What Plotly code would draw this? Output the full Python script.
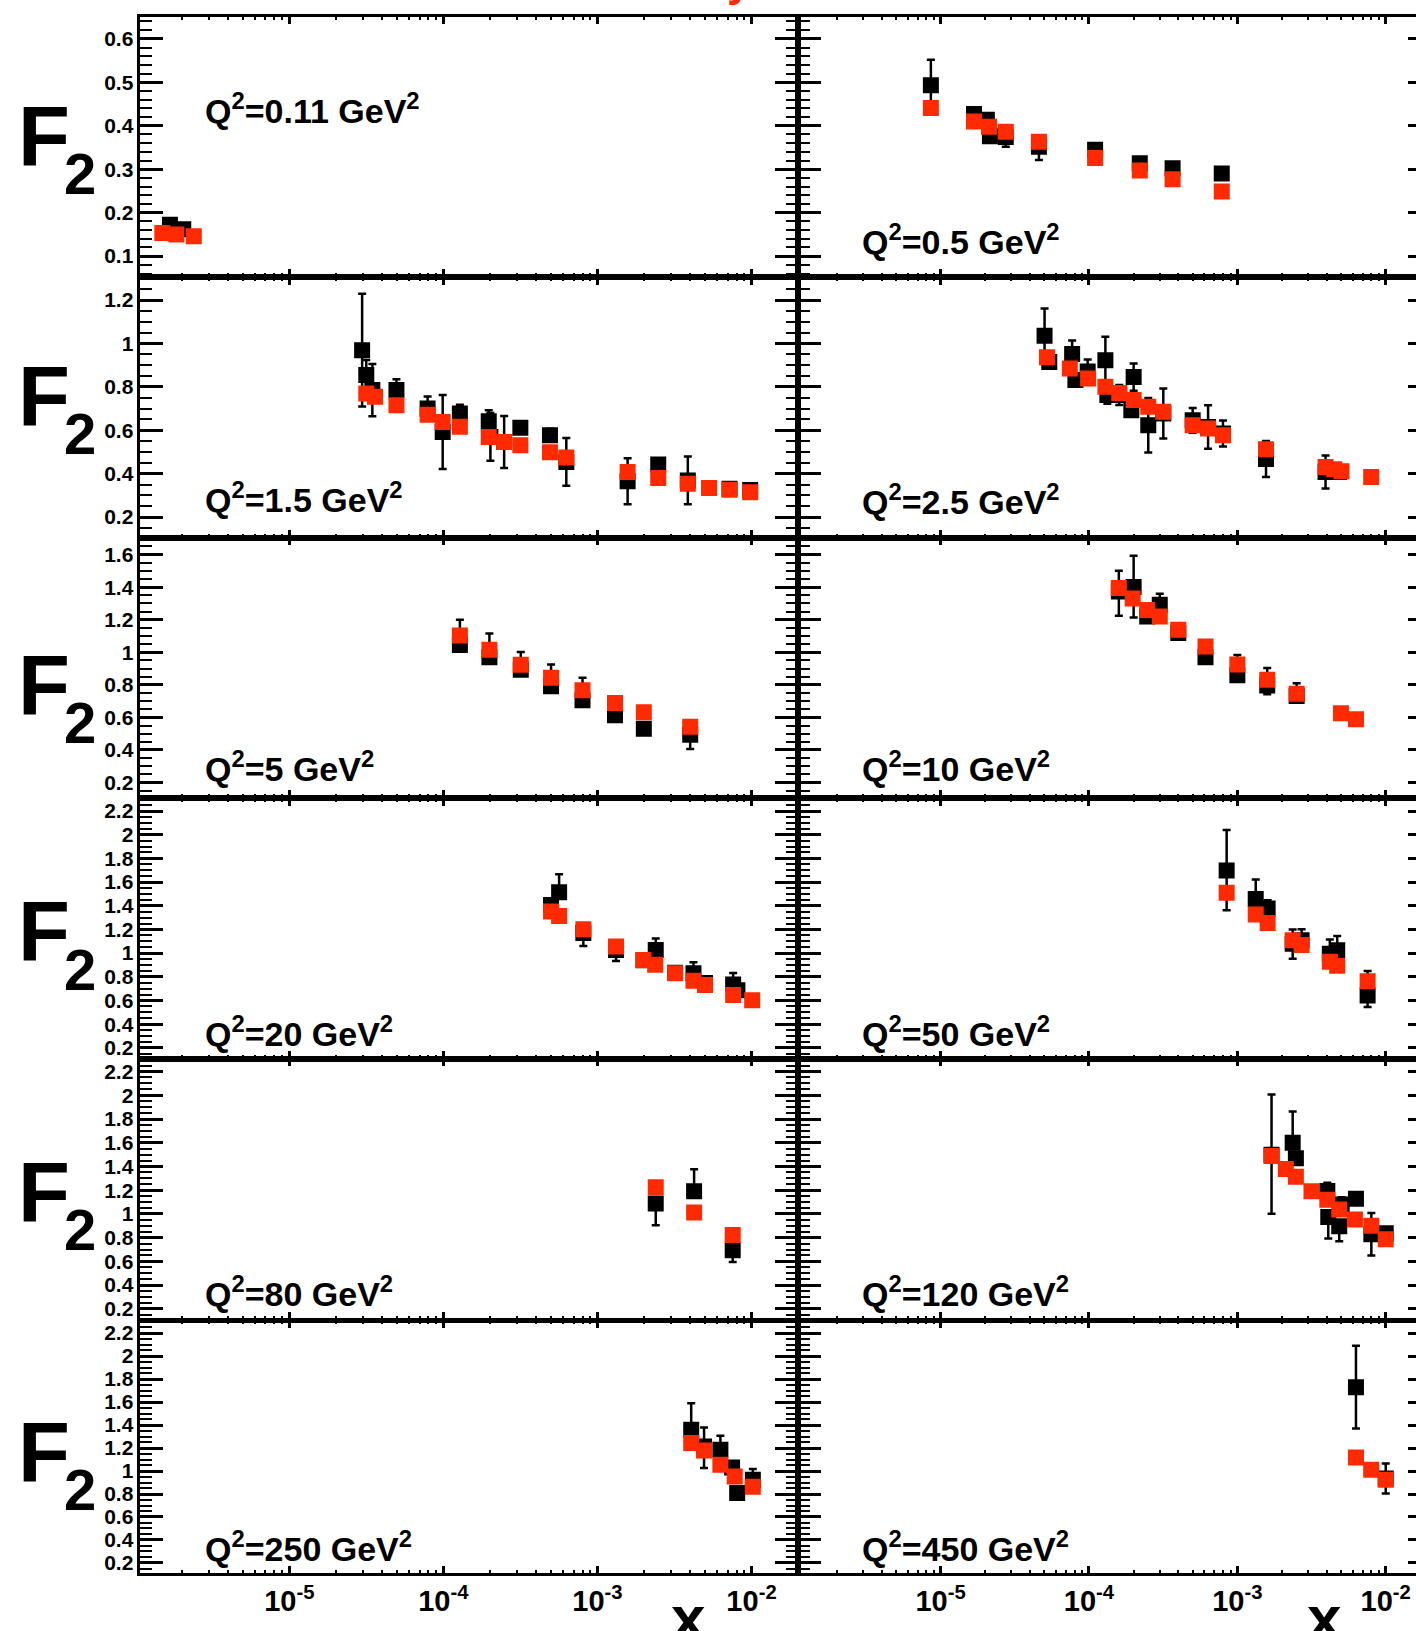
import plotly.graph_objects as go

W, H = 1416, 1631
FONT = "Liberation Sans, Arial, Helvetica, sans-serif"
BLACK = "#000000"
RED = "#ff2a00"

q2_labels = ["0.11", "0.5", "1.5", "2.5", "5", "10", "20", "50", "80", "120", "250", "450"]
x_tick_vals = [1e-5, 1e-4, 1e-3, 1e-2]
x_tick_text = ["10<sup>-5</sup>", "10<sup>-4</sup>", "10<sup>-3</sup>", "10<sup>-2</sup>"]

# ---------------- data (black = measurement, red = model) ----------------
# Q2 = 0.11
dat_x_0p11 = [1.68e-6, 2.05e-6]
dat_f2_0p11 = [0.172, 0.162]
dat_up_0p11 = [0.006, 0.006]
dat_dn_0p11 = [0.006, 0.006]
mod_x_0p11 = [1.5e-6, 1.85e-6, 2.4e-6]
mod_f2_0p11 = [0.153, 0.150, 0.146]

# Q2 = 0.5
dat_x_0p5 = [8.6e-6, 1.68e-5, 2.05e-5, 2.15e-5, 2.75e-5, 4.6e-5, 1.1e-4, 2.2e-4, 3.66e-4, 7.85e-4]
dat_f2_0p5 = [0.493, 0.427, 0.414, 0.376, 0.374, 0.352, 0.345, 0.314, 0.302, 0.290]
dat_up_0p5 = [0.059, 0.008, 0.012, 0.008, 0.010, 0.010, 0.006, 0.006, 0.006, 0.008]
dat_dn_0p5 = [0.059, 0.008, 0.012, 0.008, 0.022, 0.031, 0.006, 0.006, 0.006, 0.008]
mod_x_0p5 = [8.6e-6, 1.68e-5, 2.12e-5, 2.75e-5, 4.6e-5, 1.1e-4, 2.2e-4, 3.66e-4, 7.85e-4]
mod_f2_0p5 = [0.441, 0.410, 0.398, 0.386, 0.363, 0.326, 0.297, 0.277, 0.249]

# Q2 = 1.5
dat_x_1p5 = [2.97e-5, 3.16e-5, 3.46e-5, 4.96e-5, 7.9e-5, 9.9e-5, 1.28e-4, 1.97e-4, 2.02e-4,
             2.48e-4, 3.16e-4, 4.92e-4, 6.28e-4, 1.57e-3, 2.48e-3, 3.86e-3, 7.2e-3, 9.8e-3]
dat_f2_1p5 = [0.969, 0.854, 0.785, 0.785, 0.700, 0.592, 0.677, 0.642, 0.569,
              0.546, 0.611, 0.577, 0.454, 0.365, 0.442, 0.369, 0.330, 0.325]
dat_up_1p5 = [0.26, 0.07, 0.12, 0.05, 0.056, 0.17, 0.04, 0.05, 0.11,
              0.12, 0.02, 0.03, 0.11, 0.106, 0.02, 0.11, 0.01, 0.01]
dat_dn_1p5 = [0.26, 0.07, 0.12, 0.05, 0.056, 0.17, 0.04, 0.03, 0.11,
              0.12, 0.02, 0.03, 0.11, 0.106, 0.02, 0.11, 0.01, 0.01]
mod_x_1p5 = [3.16e-5, 3.6e-5, 4.96e-5, 7.9e-5, 9.9e-5, 1.28e-4, 1.97e-4, 2.48e-4, 3.16e-4,
             4.92e-4, 6.28e-4, 1.57e-3, 2.48e-3, 3.86e-3, 5.3e-3, 7.2e-3, 9.8e-3]
mod_f2_1p5 = [0.769, 0.754, 0.715, 0.671, 0.638, 0.616, 0.569, 0.546, 0.531,
              0.499, 0.474, 0.408, 0.380, 0.354, 0.334, 0.326, 0.315]

# Q2 = 2.5
dat_x_2p5 = [5.02e-5, 5.4e-5, 7.7e-5, 8.1e-5, 9.8e-5, 1.29e-4, 1.33e-4, 1.6e-4, 2.0e-4,
             1.93e-4, 2.51e-4, 3.17e-4, 5.0e-4, 6.35e-4, 8.0e-4, 1.56e-3, 3.93e-3, 4.85e-3]
dat_f2_2p5 = [1.035, 0.915, 0.951, 0.831, 0.871, 0.923, 0.762, 0.762, 0.845,
              0.692, 0.623, 0.677, 0.646, 0.615, 0.585, 0.468, 0.408, 0.408]
dat_up_2p5 = [0.126, 0.03, 0.062, 0.02, 0.055, 0.108, 0.04, 0.046, 0.063,
              0.02, 0.126, 0.115, 0.057, 0.10, 0.06, 0.083, 0.076, 0.02]
dat_dn_2p5 = [0.126, 0.03, 0.062, 0.02, 0.055, 0.108, 0.04, 0.046, 0.063,
              0.02, 0.126, 0.115, 0.057, 0.10, 0.06, 0.083, 0.076, 0.02]
mod_x_2p5 = [5.21e-5, 7.43e-5, 9.87e-5, 1.29e-4, 1.6e-4, 2.0e-4, 2.51e-4, 3.17e-4, 5.0e-4,
             6.35e-4, 8.0e-4, 1.56e-3, 3.93e-3, 4.5e-3, 5.03e-3, 7.98e-3]
mod_f2_2p5 = [0.936, 0.885, 0.839, 0.800, 0.772, 0.739, 0.708, 0.685, 0.623,
              0.608, 0.577, 0.512, 0.431, 0.420, 0.411, 0.385]

# Q2 = 5
dat_x_5 = [1.28e-4, 1.99e-4, 3.18e-4, 5.0e-4, 8.0e-4, 1.3e-3, 2.0e-3, 4.0e-3]
dat_f2_5 = [1.044, 0.970, 0.892, 0.792, 0.705, 0.613, 0.531, 0.494]
dat_up_5 = [0.156, 0.146, 0.109, 0.133, 0.139, 0.03, 0.02, 0.06]
dat_dn_5 = [0.02, 0.02, 0.03, 0.02, 0.02, 0.03, 0.02, 0.088]
mod_x_5 = [1.28e-4, 1.99e-4, 3.18e-4, 5.0e-4, 8.0e-4, 1.3e-3, 2.0e-3, 4.0e-3]
mod_f2_5 = [1.103, 1.015, 0.923, 0.843, 0.767, 0.689, 0.631, 0.543]

# Q2 = 10
dat_x_10 = [1.59e-4, 2.0e-4, 2.47e-4, 3.0e-4, 4.0e-4, 6.1e-4, 1.0e-3, 1.59e-3, 2.51e-3]
dat_f2_10 = [1.374, 1.401, 1.220, 1.292, 1.118, 0.970, 0.859, 0.796, 0.732]
dat_up_10 = [0.127, 0.192, 0.02, 0.068, 0.01, 0.01, 0.125, 0.107, 0.078]
dat_dn_10 = [0.150, 0.187, 0.02, 0.02, 0.01, 0.01, 0.02, 0.053, 0.02]
mod_x_10 = [1.59e-4, 1.97e-4, 2.47e-4, 3.0e-4, 4.0e-4, 6.1e-4, 1.0e-3, 1.59e-3, 2.51e-3, 4.99e-3, 6.3e-3]
mod_f2_10 = [1.395, 1.331, 1.259, 1.220, 1.138, 1.036, 0.925, 0.831, 0.745, 0.625, 0.588]

# Q2 = 20
dat_x_20 = [5.0e-4, 5.64e-4, 8.1e-4, 1.32e-3, 1.99e-3, 2.39e-3, 3.19e-3, 4.2e-3, 4.99e-3, 7.6e-3, 8.1e-3]
dat_f2_20 = [1.407, 1.515, 1.170, 1.027, 0.939, 1.027, 0.835, 0.829, 0.747, 0.736, 0.686]
dat_up_20 = [0.02, 0.152, 0.02, 0.02, 0.02, 0.096, 0.01, 0.093, 0.01, 0.096, 0.01]
dat_dn_20 = [0.02, 0.05, 0.11, 0.093, 0.02, 0.03, 0.01, 0.02, 0.01, 0.02, 0.01]
mod_x_20 = [5.0e-4, 5.64e-4, 8.1e-4, 1.32e-3, 1.99e-3, 2.37e-3, 3.19e-3, 4.2e-3, 4.99e-3, 7.6e-3, 1.01e-2]
mod_f2_20 = [1.351, 1.314, 1.202, 1.055, 0.942, 0.902, 0.829, 0.767, 0.730, 0.646, 0.601]

# Q2 = 50
dat_x_50 = [8.47e-4, 1.33e-3, 1.6e-3, 2.36e-3, 2.71e-3, 4.2e-3, 4.71e-3, 7.55e-3]
dat_f2_50 = [1.698, 1.458, 1.376, 1.080, 1.108, 0.995, 1.024, 0.643]
dat_up_50 = [0.341, 0.164, 0.07, 0.12, 0.093, 0.121, 0.121, 0.206]
dat_dn_50 = [0.336, 0.02, 0.02, 0.127, 0.02, 0.02, 0.02, 0.099]
mod_x_50 = [8.47e-4, 1.33e-3, 1.6e-3, 2.36e-3, 2.71e-3, 4.2e-3, 4.71e-3, 7.55e-3]
mod_f2_50 = [1.509, 1.326, 1.255, 1.108, 1.069, 0.927, 0.894, 0.762]

# Q2 = 80
dat_x_80 = [2.39e-3, 4.24e-3, 7.55e-3]
dat_f2_80 = [1.088, 1.190, 0.694]
dat_up_80 = [0.02, 0.186, 0.02]
dat_dn_80 = [0.183, 0.05, 0.099]
mod_x_80 = [2.39e-3, 4.24e-3, 7.55e-3]
mod_f2_80 = [1.224, 1.012, 0.823]

# Q2 = 120
dat_x_120 = [1.7e-3, 2.36e-3, 2.48e-3, 4.04e-3, 4.1e-3, 4.86e-3, 5.05e-3, 6.3e-3, 8.0e-3, 1.0e-2]
dat_f2_120 = [1.498, 1.599, 1.469, 1.193, 0.973, 0.897, 1.080, 1.128, 0.829, 0.838]
dat_up_120 = [0.508, 0.265, 0.03, 0.07, 0.02, 0.02, 0.06, 0.03, 0.178, 0.02]
dat_dn_120 = [0.496, 0.03, 0.03, 0.02, 0.18, 0.127, 0.02, 0.03, 0.18, 0.02]
mod_x_120 = [1.7e-3, 2.12e-3, 2.48e-3, 3.16e-3, 4.04e-3, 4.86e-3, 6.2e-3, 8.0e-3, 1.0e-2]
mod_f2_120 = [1.489, 1.379, 1.314, 1.190, 1.120, 1.038, 0.953, 0.900, 0.787]

# Q2 = 250
dat_x_250 = [4.06e-3, 4.92e-3, 6.28e-3, 7.48e-3, 8.07e-3, 1.02e-2]
dat_f2_250 = [1.359, 1.214, 1.185, 1.030, 0.809, 0.924]
dat_up_250 = [0.23, 0.165, 0.122, 0.02, 0.02, 0.093]
dat_dn_250 = [0.02, 0.188, 0.02, 0.02, 0.02, 0.02]
mod_x_250 = [4.06e-3, 4.92e-3, 6.28e-3, 7.78e-3, 1.02e-2]
mod_f2_250 = [1.243, 1.179, 1.055, 0.953, 0.863]

# Q2 = 450
dat_x_450 = [6.3e-3, 1.0e-2]
dat_f2_450 = [1.730, 0.935]
dat_up_450 = [0.36, 0.13]
dat_dn_450 = [0.36, 0.13]
mod_x_450 = [6.3e-3, 7.98e-3, 1.0e-2]
mod_f2_450 = [1.118, 1.011, 0.924]

panels = [
    (dat_x_0p11, dat_f2_0p11, dat_up_0p11, dat_dn_0p11, mod_x_0p11, mod_f2_0p11),
    (dat_x_0p5, dat_f2_0p5, dat_up_0p5, dat_dn_0p5, mod_x_0p5, mod_f2_0p5),
    (dat_x_1p5, dat_f2_1p5, dat_up_1p5, dat_dn_1p5, mod_x_1p5, mod_f2_1p5),
    (dat_x_2p5, dat_f2_2p5, dat_up_2p5, dat_dn_2p5, mod_x_2p5, mod_f2_2p5),
    (dat_x_5, dat_f2_5, dat_up_5, dat_dn_5, mod_x_5, mod_f2_5),
    (dat_x_10, dat_f2_10, dat_up_10, dat_dn_10, mod_x_10, mod_f2_10),
    (dat_x_20, dat_f2_20, dat_up_20, dat_dn_20, mod_x_20, mod_f2_20),
    (dat_x_50, dat_f2_50, dat_up_50, dat_dn_50, mod_x_50, mod_f2_50),
    (dat_x_80, dat_f2_80, dat_up_80, dat_dn_80, mod_x_80, mod_f2_80),
    (dat_x_120, dat_f2_120, dat_up_120, dat_dn_120, mod_x_120, mod_f2_120),
    (dat_x_250, dat_f2_250, dat_up_250, dat_dn_250, mod_x_250, mod_f2_250),
    (dat_x_450, dat_f2_450, dat_up_450, dat_dn_450, mod_x_450, mod_f2_450),
]

# ---------------- layout geometry (pixels) ----------------
COL_X = [(140.3, 798.2), (798.2, 1416.0)]
X_RANGE = [(-5.967, -1.697), (-5.9596, -1.796)]
ROW_TOP = [16.7, 277.0, 537.5, 798.0, 1058.5, 1320.5]
ROW_BOT = [277.0, 537.5, 798.0, 1058.5, 1319.5, 1573.3]
Y_RANGE = [(0.052, 0.651), (0.106, 1.306), (0.105, 1.705), (0.11, 2.31), (0.11, 2.31), (0.11, 2.31)]
Y_DTICK = [0.1, 0.2, 0.2, 0.2, 0.2, 0.2]
Y_MINOR = [0.02, 0.05, 0.05, 0.05, 0.05, 0.05]

minor_x = [k * 10.0 ** e for e in range(-6, -1) for k in range(2, 10)]

fig = go.Figure()
layout = dict(width=W, height=H, margin=dict(l=0, r=0, t=0, b=0),
              paper_bgcolor="white", plot_bgcolor="white", showlegend=False)

for i, (dx, df, du, dd, mx, mf) in enumerate(panels):
    r, c = divmod(i, 2)
    n = i + 1
    xa = "x" if n == 1 else f"x{n}"
    ya = "y" if n == 1 else f"y{n}"
    fig.add_trace(go.Scatter(
        x=dx, y=df, xaxis=xa, yaxis=ya, mode="markers",
        marker=dict(symbol="square", size=16, color=BLACK, line=dict(width=0)),
        error_y=dict(type="data", symmetric=False, array=du, arrayminus=dd,
                     color=BLACK, thickness=2.5, width=4)))
    fig.add_trace(go.Scatter(
        x=mx, y=mf, xaxis=xa, yaxis=ya, mode="markers",
        marker=dict(symbol="square", size=16, color=RED, line=dict(width=0))))

    x0, x1 = COL_X[c]
    bottom_row = (r == 5)
    layout["xaxis" if n == 1 else f"xaxis{n}"] = dict(
        domain=[x0 / W, x1 / W], anchor=ya, type="log", range=list(X_RANGE[c]),
        tickmode="array", tickvals=x_tick_vals, ticktext=x_tick_text,
        showticklabels=bottom_row,
        tickfont=dict(family=FONT, size=29, color=BLACK, weight="bold"),
        ticks="inside", ticklen=8, tickwidth=2.5, tickcolor=BLACK,
        minor=dict(tickmode="array", tickvals=minor_x, ticks="inside", ticklen=4,
                   tickwidth=2, tickcolor=BLACK, showgrid=False),
        showline=True, linewidth=2.5, linecolor=BLACK, mirror="ticks",
        showgrid=False, zeroline=False, fixedrange=True)
    layout["yaxis" if n == 1 else f"yaxis{n}"] = dict(
        domain=[1 - ROW_BOT[r] / H, 1 - ROW_TOP[r] / H], anchor=xa,
        range=list(Y_RANGE[r]), tick0=0, dtick=Y_DTICK[r],
        showticklabels=(c == 0),
        tickfont=dict(family=FONT, size=21, color=BLACK, weight="bold"),
        ticks="inside", ticklen=23, tickwidth=2.5, tickcolor=BLACK,
        minor=dict(tick0=0, dtick=Y_MINOR[r], ticks="inside", ticklen=12,
                   tickwidth=2, tickcolor=BLACK, showgrid=False),
        showline=True, linewidth=2.5, linecolor=BLACK,
        mirror=("ticks" if c == 0 else False),
        showgrid=False, zeroline=False, fixedrange=True)

# right-edge tick stubs of the right-hand column (frame continues past the page edge)
for r in range(6):
    n = 13 + r
    base = 2 * r + 2
    layout[f"yaxis{n}"] = dict(
        overlaying=f"y{base}", side="right", anchor="free", position=1.0,
        range=list(Y_RANGE[r]), tick0=0, dtick=Y_DTICK[r], showticklabels=False,
        ticks="inside", ticklen=8, tickwidth=2.5, tickcolor=BLACK,
        showline=False, showgrid=False, zeroline=False, fixedrange=True)
    fig.add_trace(go.Scatter(x=[None], y=[None], xaxis=f"x{base}", yaxis=f"y{n}",
                             mode="markers", hoverinfo="skip"))

fig.update_layout(**layout)


def txt(s, x_px, base_px, size, color=BLACK, xanchor="left"):
    fig.add_annotation(text=s, x=x_px / W, y=1 - (base_px + 0.212 * size) / H,
                       xref="paper", yref="paper", xanchor=xanchor, yanchor="bottom",
                       showarrow=False, borderpad=0,
                       font=dict(family=FONT, size=size, color=color, weight="bold"))


# Q2 labels
label_base = [(124, 255), (513, 515), (782, 782), (1047, 1047), (1307, 1307), (1562, 1562)]
for i, q in enumerate(q2_labels):
    r, c = divmod(i, 2)
    xpx = 204 if c == 0 else 861
    txt(f"Q<sup>2</sup>={q} GeV<sup>2</sup>", xpx, label_base[r][c], 34)

# F2 labels
F_BASE = [166.5, 426.6, 715.8, 962.4, 1222.5, 1482.6]
for r in range(6):
    txt("F", 17, F_BASE[r], 85)
    txt("2", 63, F_BASE[r] + 28, 58)

# x axis titles
txt("x", 688, 1640, 62, xanchor="center")
txt("x", 1324, 1640, 62, xanchor="center")

# red title fragment cut off at the top edge
txt("y", 739, -3, 44, color=RED, xanchor="center")

fig.write_html("out.html", config={"displayModeBar": False},
               post_script="document.body.style.margin='0';")
